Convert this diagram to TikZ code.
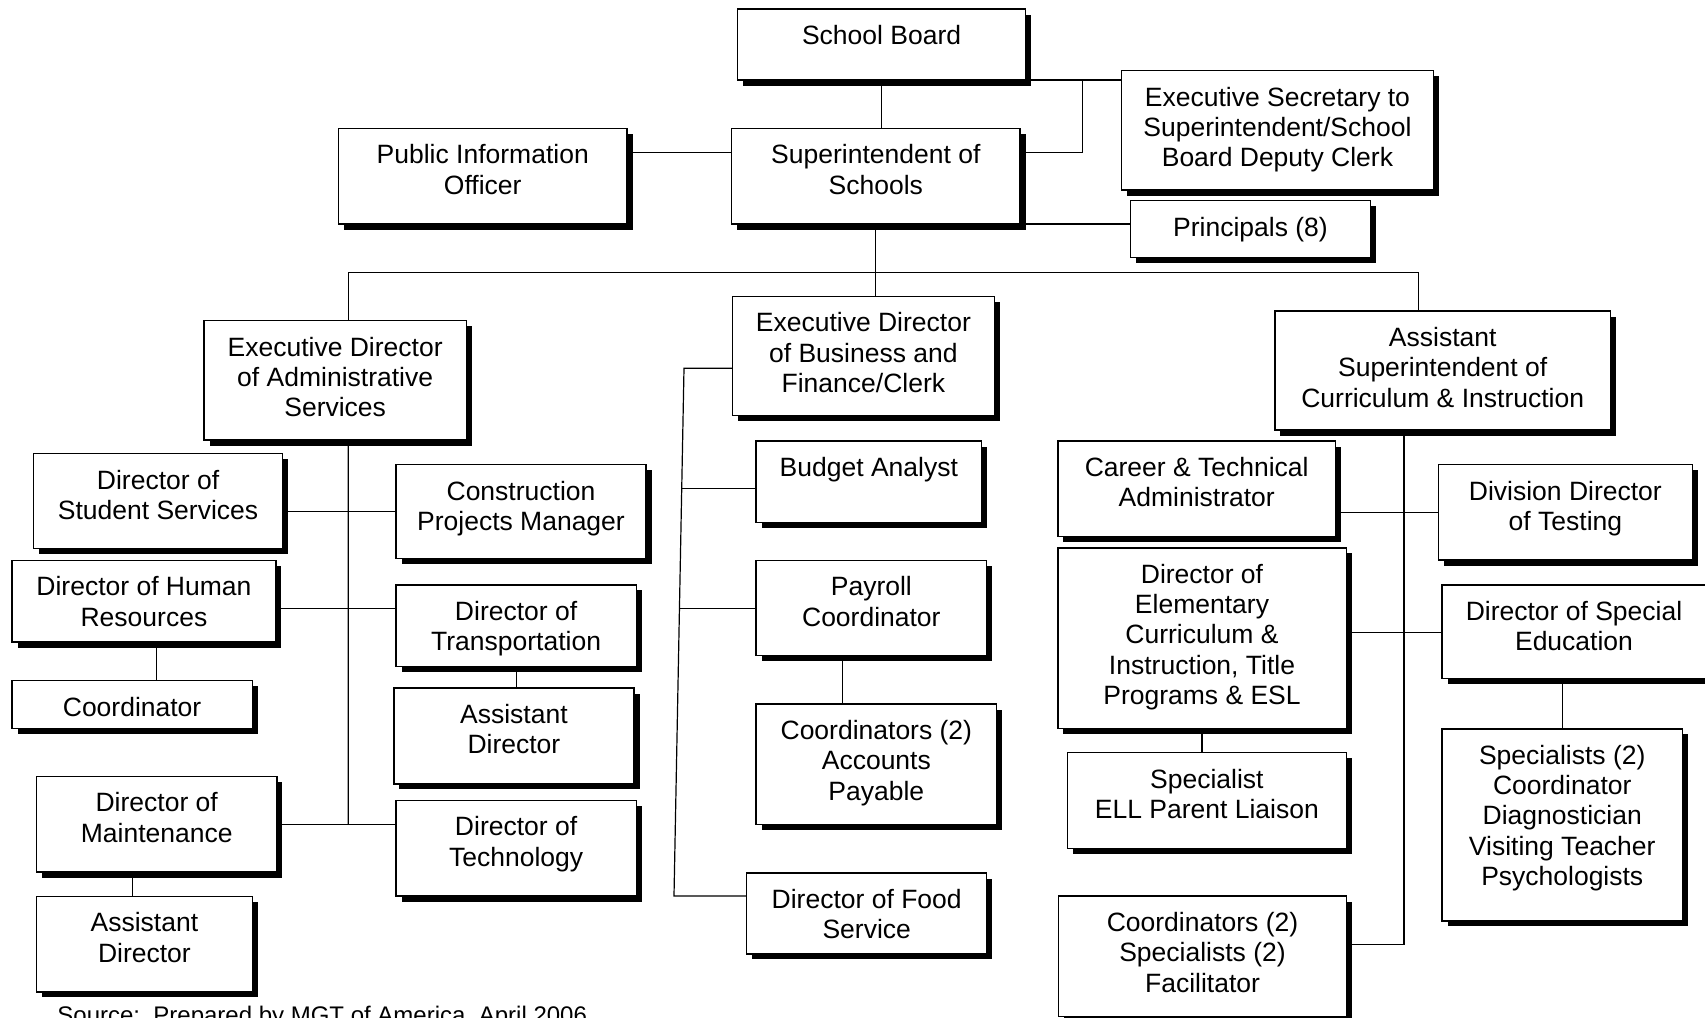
\documentclass[tikz,border=0pt]{standalone}
\usepackage{fontspec}
\setmainfont{Liberation Sans}
\usetikzlibrary{calc,backgrounds}

% #1 name, #2 left, #3 top, #4 right, #5 bottom, #6 label
\newcommand\orgbox[6]{%
  \fill[orgshadow] ({#2+5.5},{#3+5.5}) rectangle ({#4+5.5},{#5+5.5});
  \node[orgframe, minimum width={(#4-(#2))*0.5pt}, minimum height={(#5-(#3))*0.5pt}]
    (#1) at ({(#2+#4)/2},{(#3+#5)/2}) {};
  \node[orgtext] (#1-t) at ({(#2+#4)/2},{#3+13.8}) {\rule{0pt}{10.6pt}#6};
}

\begin{document}
\begin{tikzpicture}[x=0.5pt,y=-0.5pt,
  link/.style={line width=0.6pt, draw=black},
  orgframe/.style={draw=black, fill=white, line width=0.7pt, inner sep=0pt, outer sep=0pt},
  orgshadow/.style={fill=black},
  orgtext/.style={align=center, inner sep=0pt, anchor=north,
                  font=\fontsize{13.25}{15.15}\selectfont}]
\useasboundingbox (0,0) rectangle (1705,1018);

% top level
\orgbox{sb}{737.5}{9}{1025.7}{80}{School Board}
\orgbox{pio}{338.5}{128.3}{627}{224}{Public Information\\Officer}
\orgbox{sup}{731.7}{128.3}{1020}{224}{Superintendent of\\Schools}
\orgbox{es}{1121.5}{70.7}{1433.4}{190}{Executive Secretary to\\Superintendent/School\\Board Deputy Clerk}
\orgbox{pr}{1130.3}{200.7}{1370.7}{257.7}{Principals (8)}

% second level
\orgbox{eda}{204}{320.7}{466.3}{440}{Executive Director\\of Administrative\\Services}
\orgbox{edb}{732.3}{296.5}{994.5}{415.7}{Executive Director\\of Business and\\Finance/Clerk}
\orgbox{as}{1274.8}{311}{1610.6}{430}{Assistant\\Superintendent of\\Curriculum \& Instruction}

% administrative services
\orgbox{dss}{33.5}{453.6}{282.6}{548.7}{Director of\\Student Services}
\orgbox{cpm}{396}{464.7}{646}{558.7}{Construction\\Projects Manager}
\orgbox{dhr}{12}{560.5}{275.9}{642}{Director of Human\\Resources}
\orgbox{dtr}{396}{584.9}{636.2}{666.3}{Director of\\Transportation}
\orgbox{coo}{12}{680.7}{252.2}{728.2}{Coordinator}
\orgbox{adt}{393.8}{688}{634}{783.9}{Assistant\\Director}
\orgbox{dm}{36.6}{776.5}{276.8}{872}{Director of\\Maintenance}
\orgbox{dte}{396}{800.5}{636.2}{896}{Director of\\Technology}
\orgbox{adm}{36.6}{896.3}{252.2}{991.8}{Assistant\\Director}

% business and finance
\orgbox{ba}{756}{441}{981.7}{522.2}{Budget Analyst}
\orgbox{pc}{756}{560.4}{986.7}{655.7}{Payroll\\Coordinator}
\orgbox{cap}{756}{704.1}{996.7}{824.3}{Coordinators (2)\\Accounts\\Payable}
\orgbox{dfs}{746.7}{873.1}{986.7}{953.9}{Director of Food\\Service}

% curriculum and instruction
\orgbox{cta}{1057.8}{441}{1335.6}{536.3}{Career \& Technical\\Administrator}
\orgbox{ddt}{1438.6}{464.6}{1692.2}{560}{Division Director\\of Testing}
\orgbox{dec}{1057.8}{547.8}{1346.2}{728.2}{Director of\\Elementary\\Curriculum \&\\Instruction, Title\\Programs \& ESL}
\orgbox{dse}{1442}{584.8}{1706}{678.6}{Director of Special\\Education}
\orgbox{sell}{1067.6}{752.6}{1346.2}{848.3}{Specialist\\ELL Parent Liaison}
\orgbox{spc}{1442}{728.9}{1682.5}{920.8}{Specialists (2)\\Coordinator\\Diagnostician\\Visiting Teacher\\Psychologists}
\orgbox{cfa}{1058.3}{896}{1346.7}{1016.7}{Coordinators (2)\\Specialists (2)\\Facilitator}

\node[anchor=base west, inner sep=0pt, font=\fontsize{12}{14}\selectfont]
  (src) at (57,1023.7) {Source:~~Prepared by MGT of America, April 2006};

% junction points of the connector runs
\coordinate (lvlSup) at (0,152.7);
\coordinate (busL) at (348.3,272.3);
\coordinate (busR) at (1418.7,272.3);
\coordinate (jES) at (1082.7,80);
\coordinate (admEnd) at (348.2,824.4);
\coordinate (lvlHR) at (0,608.8);
\coordinate (xHR) at (156.3,0);
\coordinate (xMnt) at (132.1,0);
\coordinate (spT) at (684,368.3);
\coordinate (spB) at (674,896);
\coordinate (xPay) at (842.7,0);
\coordinate (xCI) at (1404,0);
\coordinate (ciEnd) at (1404,944.4);
\coordinate (lvlSE) at (0,632.8);

\begin{pgfonlayer}{background}
  % board, superintendent and staff
  \draw[link] (sb.south) -- (sb.south |- sup.north);
  \draw[link] (pio.east |- lvlSup) -- (sup.west |- lvlSup);
  \draw[link] (sup.east |- lvlSup) -- (jES |- lvlSup) -- (jES);
  \draw[link] (sb.south east) -- (es.west |- sb.south east);
  \draw[link] (sup.south east) -- (pr.west |- sup.south east);
  \draw[link] (sup.south) -- (sup.south |- edb.north);
  \draw[link] (busL |- eda.north) -- (busL) -- (busR) -- (busR |- as.north);

  % administrative services
  \draw[link] (busL |- eda.south) -- (admEnd);
  \draw[link] (dss.east |- cpm.west) -- (cpm.west);
  \draw[link] (dhr.east |- lvlHR) -- (dtr.west |- lvlHR);
  \draw[link] (xHR |- dhr.south) -- (xHR |- coo.north);
  \draw[link] (dtr.south) -- (dtr.south |- adt.north);
  \draw[link] (dm.east) -- (dm.east -| dte.west);
  \draw[link] (xMnt |- dm.south) -- (xMnt |- adm.north);

  % business and finance
  \draw[link] (edb.west |- spT) -- (spT) -- (spB) -- (spB -| dfs.west);
  \draw[link] ($(spT)!0.228!(spB)$) coordinate (brBA) -- (brBA -| ba.west);
  \draw[link] ($(spT)!0.455!(spB)$) coordinate (brPC) -- (brPC -| pc.west);
  \draw[link] (xPay |- pc.south) -- (xPay |- cap.north);

  % curriculum and instruction
  \draw[link] (xCI |- as.south) -- (ciEnd) -- (ciEnd -| cfa.east);
  \draw[link] (cta.east |- ddt.west) -- (ddt.west);
  \draw[link] (dec.east |- lvlSE) -- (dse.west |- lvlSE);
  \draw[link] (dec.south) -- (dec.south |- sell.north);
  \draw[link] (dse.south -| spc.north) -- (spc.north);
\end{pgfonlayer}
\end{tikzpicture}
\end{document}
